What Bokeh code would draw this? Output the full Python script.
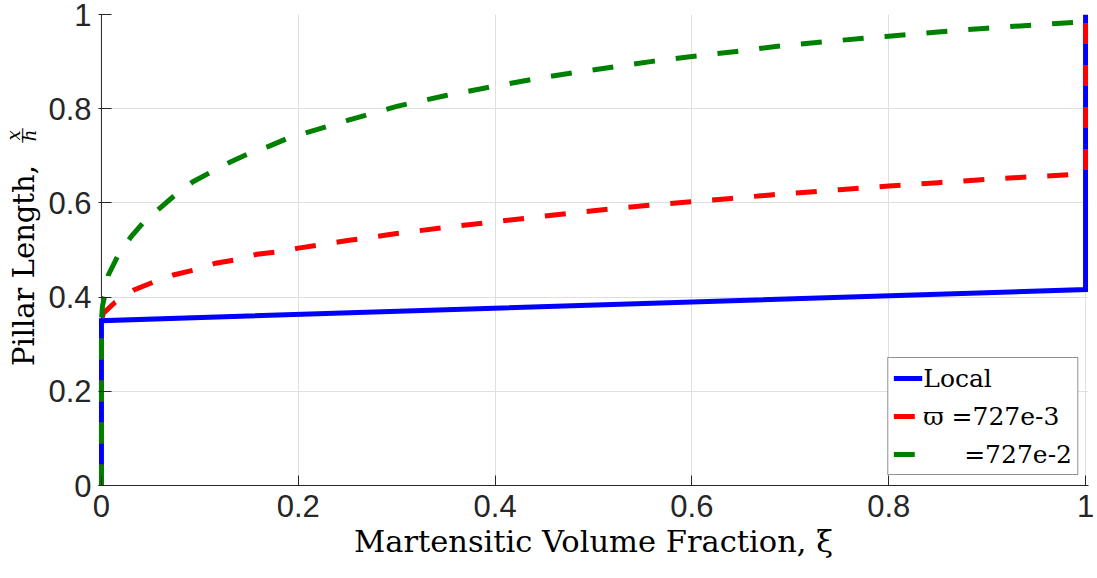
import math

from bokeh.plotting import figure
from bokeh.layouts import row
from bokeh.models import Legend, LegendItem, FixedTicker, Range1d, Span
from bokeh.core.properties import value
from bokeh.embed import file_html
from bokeh.resources import INLINE

# Local model: jump at xi=0, slow linear rise, jump at xi=1
xi_local = [0.0, 0.0, 1.0, 1.0]
len_local = [0.0, 0.35, 0.416, 1.0]

# Nonlocal, varpi = 727e-3
xi_small = [0.0, 0.0, 0.002, 0.014, 0.033, 0.053, 0.073, 0.093, 0.116, 0.136,
            0.158, 0.179, 0.2, 0.25, 0.3, 0.35, 0.4, 0.45, 0.507, 0.551, 0.596,
            0.637, 0.68, 0.75, 0.8, 0.85, 0.9, 0.95, 1.0, 1.0]
len_small = [0.0, 0.35, 0.366, 0.389, 0.415, 0.432, 0.447, 0.457, 0.472, 0.479,
             0.491, 0.496, 0.504, 0.52, 0.535, 0.548, 0.56, 0.572, 0.585, 0.594,
             0.602, 0.609, 0.617, 0.628, 0.636, 0.643, 0.65, 0.656, 0.662, 1.0]

# Nonlocal, varpi = 727e-2
xi_large = [0.0, 0.0, 0.001, 0.003, 0.007, 0.017, 0.03, 0.042, 0.06, 0.075, 0.093,
            0.11, 0.131, 0.151, 0.17, 0.19, 0.25, 0.3, 0.35, 0.4, 0.45, 0.515,
            0.558, 0.6, 0.643, 0.685, 0.75, 0.8, 0.85, 0.9, 0.95, 1.0, 1.0]
len_large = [0.0, 0.35, 0.38, 0.40, 0.447, 0.489, 0.528, 0.557, 0.59, 0.617, 0.645,
             0.664, 0.687, 0.706, 0.72, 0.738, 0.775, 0.805, 0.828, 0.848, 0.867,
             0.887, 0.90, 0.911, 0.921, 0.932, 0.945, 0.954, 0.963, 0.971, 0.978,
             0.985, 1.0]

tick_vals = [0.0, 0.2, 0.4, 0.6, 0.8, 1.0]
tick_text = ["0", "0.2", "0.4", "0.6", "0.8", "1"]

labels = ["Local", "\u03d6 =727e-3", "\u2003\u00a0 =727e-2"]

AX = "#262626"
SERIF = "DejaVu Serif"
PAD = 0.003  # a little room so the thick lines at xi=0 and xi=1 are not cut
STRIP = 45   # width of the strip holding the vertical axis title
W, H = 1097, 578

# ---- main chart -------------------------------------------------------------
p = figure(width=W - STRIP, height=H, output_backend="svg", toolbar_location=None,
           x_range=Range1d(-PAD, 1 + PAD), y_range=Range1d(0, 1),
           min_border_left=98 - STRIP, min_border_right=9, min_border_top=14,
           min_border_bottom=93)
p.background_fill_color = "white"
p.border_fill_color = "white"
p.outline_line_color = None

for ax in (p.xaxis[0], p.yaxis[0]):
    ax.ticker = FixedTicker(ticks=tick_vals)
    ax.major_label_overrides = {v: t for v, t in zip(tick_vals, tick_text)}
    ax.minor_tick_line_color = None
    ax.major_tick_in = 10
    ax.major_tick_out = 0
    ax.axis_line_color = AX
    ax.major_tick_line_color = AX
    ax.major_label_text_color = AX
    ax.major_label_text_font = "Liberation Sans"
    ax.major_label_text_font_size = "31px"
    ax.major_label_standoff = 9

# the vertical axis line sits at xi = 0, under the curves
p.yaxis.axis_line_color = None
p.yaxis.major_tick_in = 13
p.yaxis.major_label_standoff = 7
p.add_layout(Span(location=0, dimension="height", line_color=AX, line_width=1,
                  level="underlay"))

p.xaxis.axis_label = "Martensitic Volume Fraction, \u03be"
p.xaxis.axis_label_text_font = SERIF
p.xaxis.axis_label_text_font_style = "normal"
p.xaxis.axis_label_text_font_size = "30.5px"
p.xaxis.axis_label_text_color = "black"
p.xaxis.axis_label_standoff = 4

for g in (p.xgrid[0], p.ygrid[0]):
    g.ticker = FixedTicker(ticks=tick_vals)
    g.grid_line_color = "#dfdfdf"
    g.grid_line_width = 1

r_local = p.line(xi_local, len_local, line_color="#0000ff", line_width=5,
                 line_join="miter")
r_small = p.line(xi_small, len_small, line_color="#ff0000", line_width=5,
                 line_dash="21 21", line_join="miter")
r_large = p.line(xi_large, len_large, line_color="#008000", line_width=5,
                 line_dash="21 21", line_join="miter")

legend = Legend(items=[LegendItem(label=labels[0], renderers=[r_local]),
                       LegendItem(label=labels[1], renderers=[r_small]),
                       LegendItem(label=labels[2], renderers=[r_large])],
                location="bottom_right", margin=10, padding=5, spacing=8,
                glyph_width=29, glyph_height=30, label_standoff=1,
                label_text_font=SERIF, label_text_font_size="25px",
                label_text_color="black", border_line_color=AX,
                border_line_width=1, background_fill_color="white",
                background_fill_alpha=1.0)
p.add_layout(legend, "center")

# ---- strip with the vertical title "Pillar Length, x/h" ---------------------
# shares the vertical range, so its frame lines up with the chart's frame
t = figure(width=STRIP, height=H, output_backend="svg", toolbar_location=None,
           x_range=Range1d(0, STRIP), y_range=p.y_range,
           x_axis_type=None, y_axis_type=None,
           min_border_left=0, min_border_right=0, min_border_top=14,
           min_border_bottom=93)
t.grid.visible = False
t.outline_line_color = None
t.background_fill_color = "white"
t.border_fill_color = "white"

rot = math.pi / 2
mid = dict(angle=rot, text_align="center", text_baseline="middle",
           text_color="black", text_font=value(SERIF))
t.text(x=[23], y=[0.467], text=["Pillar Length,"], text_font_size="29px", **mid)
t.text(x=[13, 29], y=[0.743, 0.743], text=["x", "h"], text_font_style="italic",
       text_font_size="18px", **mid)
t.text(x=[20.5], y=[0.743], text=["\u2014"], text_font_size="16px", **mid)

layout = row(t, p, spacing=0)
open("out.html", "w").write(file_html(layout, INLINE))
